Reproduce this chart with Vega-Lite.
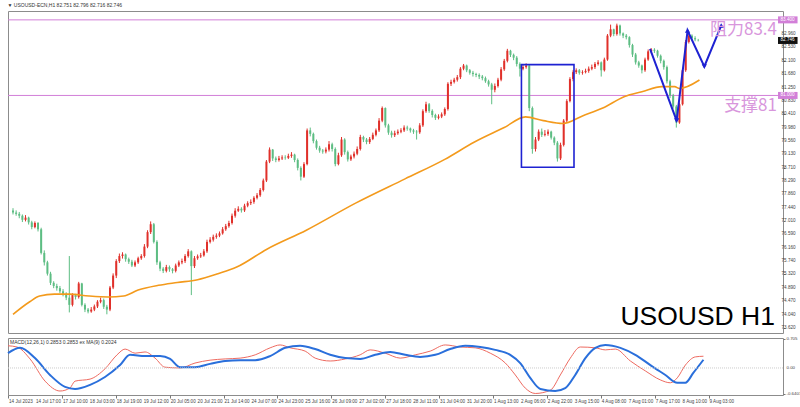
{
"$schema":"https://vega.github.io/schema/vega-lite/v6.json",
"background":"white",
"padding":{"top":2,"left":3,"right":0,"bottom":0},
"title":{"text":"▼ USOUSD-ECN,H1  82.751 82.796 82.716 82.746","anchor":"start","fontSize":5,"fontWeight":"normal","font":"Liberation Sans","color":"#333","offset":3,"dx":4},
"config":{"view":{"stroke":"#8c8c8c","strokeWidth":1},"axis":{"grid":false,"labelOverlap":false,"labelFlush":false}},
"spacing":1,
"datasets":{
"candles":[
{"i":0,"o":77.35,"h":77.42,"l":77.22,"c":77.28},{"i":2,"o":77.28,"h":77.35,"l":77.18,"c":77.24},{"i":4,"o":77.24,"h":77.3,"l":77.1,"c":77.18},{"i":6,"o":77.18,"h":77.22,"l":76.98,"c":77.05},{"i":8,"o":77.05,"h":77.2,"l":77.0,"c":77.12},{"i":10,"o":77.12,"h":77.15,"l":76.9,"c":76.97},{"i":12,"o":76.97,"h":77.02,"l":76.75,"c":76.82},{"i":14,"o":76.82,"h":77.0,"l":76.78,"c":76.95},{"i":16,"o":76.95,"h":76.98,"l":76.68,"c":76.75},{"i":18,"o":76.75,"h":76.8,"l":75.95,"c":76.0},
{"i":20,"o":76.0,"h":76.08,"l":75.6,"c":75.7},{"i":22,"o":75.7,"h":75.75,"l":75.28,"c":75.34},{"i":24,"o":75.34,"h":75.4,"l":74.98,"c":75.05},{"i":26,"o":75.05,"h":75.1,"l":74.88,"c":74.95},{"i":28,"o":74.95,"h":75.02,"l":74.8,"c":74.88},{"i":30,"o":74.88,"h":74.95,"l":74.72,"c":74.78},{"i":32,"o":74.78,"h":74.85,"l":74.62,"c":74.7},{"i":34,"o":74.7,"h":74.75,"l":74.5,"c":74.58},{"i":36,"o":74.58,"h":75.9,"l":74.11,"c":74.35},{"i":38,"o":74.35,"h":74.72,"l":74.3,"c":74.66},
{"i":40,"o":74.66,"h":74.7,"l":74.52,"c":74.6},{"i":42,"o":74.6,"h":75.08,"l":74.55,"c":75.03},{"i":44,"o":75.03,"h":75.05,"l":74.3,"c":74.35},{"i":46,"o":74.35,"h":74.4,"l":74.12,"c":74.2},{"i":48,"o":74.2,"h":74.25,"l":74.08,"c":74.14},{"i":50,"o":74.14,"h":74.28,"l":74.1,"c":74.2},{"i":52,"o":74.2,"h":74.36,"l":74.15,"c":74.3},{"i":54,"o":74.3,"h":74.5,"l":74.25,"c":74.45},{"i":56,"o":74.45,"h":74.58,"l":74.4,"c":74.5},{"i":58,"o":74.5,"h":74.55,"l":74.22,"c":74.29},
{"i":60,"o":74.29,"h":74.35,"l":74.05,"c":74.2},{"i":62,"o":74.2,"h":74.95,"l":74.15,"c":74.9},{"i":64,"o":74.9,"h":75.35,"l":74.85,"c":75.28},{"i":66,"o":75.28,"h":75.8,"l":75.2,"c":75.74},{"i":68,"o":75.74,"h":75.98,"l":75.68,"c":75.9},{"i":70,"o":75.9,"h":76.02,"l":75.82,"c":75.95},{"i":72,"o":75.95,"h":75.98,"l":75.72,"c":75.8},{"i":74,"o":75.8,"h":75.85,"l":75.65,"c":75.72},{"i":76,"o":75.72,"h":75.78,"l":75.55,"c":75.6},{"i":78,"o":75.6,"h":75.76,"l":75.55,"c":75.7},
{"i":80,"o":75.7,"h":75.88,"l":75.65,"c":75.83},{"i":82,"o":75.83,"h":75.96,"l":75.78,"c":75.9},{"i":84,"o":75.9,"h":76.28,"l":75.85,"c":76.2},{"i":86,"o":76.2,"h":76.72,"l":76.15,"c":76.66},{"i":88,"o":76.66,"h":77.0,"l":76.6,"c":76.91},{"i":90,"o":76.91,"h":76.95,"l":76.3,"c":76.35},{"i":92,"o":76.35,"h":76.4,"l":75.62,"c":75.7},{"i":94,"o":75.7,"h":75.75,"l":75.42,"c":75.5},{"i":96,"o":75.5,"h":75.55,"l":75.36,"c":75.43},{"i":98,"o":75.43,"h":75.62,"l":75.38,"c":75.55},
{"i":100,"o":75.55,"h":75.6,"l":75.4,"c":75.48},{"i":102,"o":75.48,"h":75.52,"l":75.35,"c":75.43},{"i":104,"o":75.43,"h":75.66,"l":75.38,"c":75.6},{"i":106,"o":75.6,"h":75.76,"l":75.55,"c":75.7},{"i":108,"o":75.7,"h":75.82,"l":75.64,"c":75.74},{"i":110,"o":75.74,"h":75.96,"l":75.68,"c":75.9},{"i":112,"o":75.9,"h":76.12,"l":75.85,"c":76.05},{"i":114,"o":76.05,"h":76.08,"l":74.66,"c":75.58},{"i":116,"o":75.58,"h":75.9,"l":75.52,"c":75.83},{"i":118,"o":75.83,"h":75.95,"l":75.78,"c":75.89},
{"i":120,"o":75.89,"h":76.0,"l":75.84,"c":75.92},{"i":122,"o":75.92,"h":76.12,"l":75.88,"c":76.05},{"i":124,"o":76.05,"h":76.42,"l":76.0,"c":76.35},{"i":126,"o":76.35,"h":76.5,"l":76.3,"c":76.42},{"i":128,"o":76.42,"h":76.58,"l":76.36,"c":76.51},{"i":130,"o":76.51,"h":76.62,"l":76.45,"c":76.55},{"i":132,"o":76.55,"h":76.68,"l":76.5,"c":76.62},{"i":134,"o":76.62,"h":76.82,"l":76.58,"c":76.75},{"i":136,"o":76.75,"h":76.92,"l":76.7,"c":76.85},{"i":138,"o":76.85,"h":77.02,"l":76.8,"c":76.95},
{"i":140,"o":76.95,"h":77.25,"l":76.9,"c":77.18},{"i":142,"o":77.18,"h":77.42,"l":77.12,"c":77.34},{"i":144,"o":77.34,"h":77.48,"l":77.3,"c":77.4},{"i":146,"o":77.4,"h":77.45,"l":77.28,"c":77.35},{"i":148,"o":77.35,"h":77.56,"l":77.3,"c":77.5},{"i":150,"o":77.5,"h":77.64,"l":77.45,"c":77.58},{"i":152,"o":77.58,"h":77.7,"l":77.52,"c":77.62},{"i":154,"o":77.62,"h":77.8,"l":77.56,"c":77.75},{"i":156,"o":77.75,"h":77.9,"l":77.7,"c":77.83},{"i":158,"o":77.83,"h":78.06,"l":77.78,"c":78.0},
{"i":160,"o":78.0,"h":78.36,"l":77.95,"c":78.3},{"i":162,"o":78.3,"h":78.95,"l":78.25,"c":78.9},{"i":164,"o":78.9,"h":79.35,"l":78.85,"c":79.28},{"i":166,"o":79.28,"h":79.3,"l":78.92,"c":79.0},{"i":168,"o":79.0,"h":79.06,"l":78.88,"c":78.95},{"i":170,"o":78.95,"h":79.08,"l":78.9,"c":79.0},{"i":172,"o":79.0,"h":79.1,"l":78.95,"c":79.03},{"i":174,"o":79.03,"h":79.1,"l":78.96,"c":79.02},{"i":176,"o":79.02,"h":79.15,"l":78.98,"c":79.08},{"i":178,"o":79.08,"h":79.2,"l":79.02,"c":79.12},
{"i":180,"o":79.12,"h":79.15,"l":78.88,"c":78.95},{"i":182,"o":78.95,"h":79.0,"l":78.62,"c":78.7},{"i":184,"o":78.7,"h":78.75,"l":78.3,"c":78.42},{"i":186,"o":78.42,"h":78.88,"l":78.38,"c":78.82},{"i":188,"o":78.82,"h":79.95,"l":78.78,"c":79.89},{"i":190,"o":79.89,"h":79.98,"l":79.7,"c":79.78},{"i":192,"o":79.78,"h":79.82,"l":79.48,"c":79.55},{"i":194,"o":79.55,"h":79.6,"l":79.28,"c":79.34},{"i":196,"o":79.34,"h":79.4,"l":79.18,"c":79.25},{"i":198,"o":79.25,"h":79.3,"l":79.15,"c":79.22},
{"i":200,"o":79.22,"h":79.35,"l":79.16,"c":79.28},{"i":202,"o":79.28,"h":79.55,"l":79.22,"c":79.45},{"i":204,"o":79.45,"h":79.5,"l":79.22,"c":79.3},{"i":206,"o":79.3,"h":79.35,"l":78.75,"c":78.82},{"i":208,"o":78.82,"h":79.18,"l":78.78,"c":79.1},{"i":210,"o":79.1,"h":79.68,"l":79.05,"c":79.6},{"i":212,"o":79.6,"h":79.64,"l":79.12,"c":79.2},{"i":214,"o":79.2,"h":79.25,"l":78.9,"c":78.97},{"i":216,"o":78.97,"h":79.12,"l":78.92,"c":79.06},{"i":218,"o":79.06,"h":79.22,"l":79.0,"c":79.15},
{"i":220,"o":79.15,"h":79.38,"l":79.1,"c":79.3},{"i":222,"o":79.3,"h":79.75,"l":79.25,"c":79.68},{"i":224,"o":79.68,"h":79.72,"l":79.52,"c":79.6},{"i":226,"o":79.6,"h":79.65,"l":79.45,"c":79.52},{"i":228,"o":79.52,"h":79.68,"l":79.46,"c":79.62},{"i":230,"o":79.62,"h":79.82,"l":79.58,"c":79.75},{"i":232,"o":79.75,"h":79.95,"l":79.7,"c":79.89},{"i":234,"o":79.89,"h":80.28,"l":79.84,"c":80.2},{"i":236,"o":80.2,"h":80.65,"l":80.15,"c":80.6},{"i":238,"o":80.6,"h":80.62,"l":79.98,"c":80.05},
{"i":240,"o":80.05,"h":80.1,"l":79.75,"c":79.82},{"i":242,"o":79.82,"h":79.88,"l":79.66,"c":79.74},{"i":244,"o":79.74,"h":79.88,"l":79.68,"c":79.8},{"i":246,"o":79.8,"h":79.92,"l":79.75,"c":79.85},{"i":248,"o":79.85,"h":79.96,"l":79.8,"c":79.89},{"i":250,"o":79.89,"h":80.05,"l":79.84,"c":79.98},{"i":252,"o":79.98,"h":80.04,"l":79.88,"c":79.95},{"i":254,"o":79.95,"h":79.98,"l":79.82,"c":79.89},{"i":256,"o":79.89,"h":79.94,"l":79.78,"c":79.85},{"i":258,"o":79.85,"h":79.9,"l":79.6,"c":79.83},
{"i":260,"o":79.83,"h":80.12,"l":79.78,"c":80.05},{"i":262,"o":80.05,"h":80.56,"l":80.0,"c":80.5},{"i":264,"o":80.5,"h":80.8,"l":80.45,"c":80.72},{"i":266,"o":80.72,"h":80.76,"l":80.45,"c":80.51},{"i":268,"o":80.51,"h":80.56,"l":80.3,"c":80.38},{"i":270,"o":80.38,"h":80.42,"l":80.22,"c":80.29},{"i":272,"o":80.29,"h":80.4,"l":80.24,"c":80.33},{"i":274,"o":80.33,"h":80.46,"l":80.28,"c":80.4},{"i":276,"o":80.4,"h":80.62,"l":80.35,"c":80.57},{"i":278,"o":80.57,"h":81.42,"l":80.52,"c":81.37},
{"i":280,"o":81.37,"h":81.5,"l":81.3,"c":81.43},{"i":282,"o":81.43,"h":81.56,"l":81.38,"c":81.5},{"i":284,"o":81.5,"h":81.65,"l":81.44,"c":81.58},{"i":286,"o":81.58,"h":81.9,"l":81.52,"c":81.85},{"i":288,"o":81.85,"h":82.0,"l":81.8,"c":81.95},{"i":290,"o":81.95,"h":81.98,"l":81.74,"c":81.8},{"i":292,"o":81.8,"h":81.84,"l":81.66,"c":81.72},{"i":294,"o":81.72,"h":81.78,"l":81.6,"c":81.68},{"i":296,"o":81.68,"h":81.72,"l":81.58,"c":81.65},{"i":298,"o":81.65,"h":81.7,"l":81.52,"c":81.6},
{"i":300,"o":81.6,"h":81.65,"l":81.48,"c":81.55},{"i":302,"o":81.55,"h":81.6,"l":81.4,"c":81.45},{"i":304,"o":81.45,"h":81.5,"l":81.28,"c":81.35},{"i":306,"o":81.35,"h":81.4,"l":80.72,"c":81.18},{"i":308,"o":81.18,"h":81.38,"l":81.1,"c":81.3},{"i":310,"o":81.3,"h":81.56,"l":81.25,"c":81.5},{"i":312,"o":81.5,"h":81.9,"l":81.45,"c":81.83},{"i":314,"o":81.83,"h":82.16,"l":81.78,"c":82.1},{"i":316,"o":82.1,"h":82.48,"l":82.05,"c":82.42},{"i":318,"o":82.42,"h":82.45,"l":82.22,"c":82.29},
{"i":320,"o":82.29,"h":82.33,"l":82.12,"c":82.2},{"i":322,"o":82.2,"h":82.25,"l":81.92,"c":82.0},{"i":324,"o":82.0,"h":82.05,"l":81.6,"c":81.85},{"i":326,"o":81.85,"h":81.98,"l":81.8,"c":81.9},{"i":328,"o":81.9,"h":82.02,"l":81.85,"c":81.95},{"i":330,"o":81.95,"h":81.98,"l":80.5,"c":80.6},{"i":332,"o":80.6,"h":80.65,"l":79.15,"c":79.3},{"i":334,"o":79.3,"h":79.68,"l":79.22,"c":79.6},{"i":336,"o":79.6,"h":79.92,"l":79.55,"c":79.85},{"i":338,"o":79.85,"h":79.95,"l":79.68,"c":79.75},
{"i":340,"o":79.75,"h":79.9,"l":79.7,"c":79.78},{"i":342,"o":79.78,"h":79.92,"l":79.72,"c":79.85},{"i":344,"o":79.85,"h":79.88,"l":79.6,"c":79.66},{"i":346,"o":79.66,"h":79.7,"l":79.42,"c":79.5},{"i":348,"o":79.5,"h":79.55,"l":78.9,"c":79.0},{"i":350,"o":79.0,"h":79.5,"l":78.95,"c":79.43},{"i":352,"o":79.43,"h":80.25,"l":79.38,"c":80.2},{"i":354,"o":80.2,"h":80.88,"l":80.15,"c":80.82},{"i":356,"o":80.82,"h":81.58,"l":80.78,"c":81.52},{"i":358,"o":81.52,"h":81.8,"l":81.45,"c":81.74},
{"i":360,"o":81.74,"h":81.86,"l":81.68,"c":81.8},{"i":362,"o":81.8,"h":81.84,"l":81.66,"c":81.72},{"i":364,"o":81.72,"h":81.8,"l":81.66,"c":81.74},{"i":366,"o":81.74,"h":81.85,"l":81.7,"c":81.78},{"i":368,"o":81.78,"h":81.92,"l":81.72,"c":81.85},{"i":370,"o":81.85,"h":81.98,"l":81.8,"c":81.9},{"i":372,"o":81.9,"h":82.06,"l":81.84,"c":82.0},{"i":374,"o":82.0,"h":82.12,"l":81.95,"c":82.05},{"i":376,"o":82.05,"h":82.08,"l":81.6,"c":81.8},{"i":378,"o":81.8,"h":82.2,"l":81.76,"c":82.14},
{"i":380,"o":82.14,"h":82.95,"l":82.1,"c":82.9},{"i":382,"o":82.9,"h":83.25,"l":82.85,"c":83.1},{"i":384,"o":83.1,"h":83.12,"l":82.88,"c":82.95},{"i":386,"o":82.95,"h":83.28,"l":82.9,"c":83.22},{"i":388,"o":83.22,"h":83.25,"l":82.9,"c":82.97},{"i":390,"o":82.97,"h":83.0,"l":82.82,"c":82.9},{"i":392,"o":82.9,"h":82.95,"l":82.78,"c":82.85},{"i":394,"o":82.85,"h":82.88,"l":82.52,"c":82.6},{"i":396,"o":82.6,"h":82.64,"l":82.22,"c":82.3},{"i":398,"o":82.3,"h":82.35,"l":81.98,"c":82.05},
{"i":400,"o":82.05,"h":82.1,"l":81.88,"c":81.95},{"i":402,"o":81.95,"h":81.98,"l":81.7,"c":81.8},{"i":404,"o":81.8,"h":82.2,"l":81.75,"c":82.14},{"i":406,"o":82.14,"h":82.46,"l":82.1,"c":82.4},{"i":408,"o":82.4,"h":82.5,"l":82.34,"c":82.45},{"i":410,"o":82.45,"h":82.5,"l":82.35,"c":82.42},{"i":412,"o":82.42,"h":82.45,"l":82.2,"c":82.26},{"i":414,"o":82.26,"h":82.3,"l":82.02,"c":82.1},{"i":416,"o":82.1,"h":82.14,"l":81.82,"c":81.9},{"i":418,"o":81.9,"h":81.95,"l":81.38,"c":81.45},
{"i":420,"o":81.45,"h":81.5,"l":80.92,"c":81.0},{"i":422,"o":81.0,"h":81.05,"l":80.58,"c":80.65},{"i":424,"o":80.65,"h":80.7,"l":79.98,"c":80.14},{"i":426,"o":80.14,"h":80.78,"l":80.1,"c":80.72},{"i":428,"o":80.72,"h":81.86,"l":80.68,"c":81.8},{"i":430,"o":81.8,"h":82.76,"l":81.75,"c":82.7},{"i":432,"o":82.7,"h":83.0,"l":82.65,"c":82.9},{"i":434,"o":82.9,"h":82.94,"l":82.75,"c":82.82},{"i":436,"o":82.82,"h":82.88,"l":82.72,"c":82.78},{"i":438,"o":82.751,"h":82.796,"l":82.716,"c":82.746}
],
"ma":[
{"i":0,"v":74.05},{"i":10.7,"v":74.45},{"i":17,"v":74.63},{"i":26.5,"v":74.69},{"i":36,"v":74.69},{"i":48.6,"v":74.63},{"i":61,"v":74.6},{"i":70.7,"v":74.63},{"i":80,"v":74.82},{"i":93,"v":74.97},{"i":105,"v":75.06},{"i":118,"v":75.15},{"i":131,"v":75.34},{"i":143,"v":75.55},{"i":162,"v":76.11},{"i":187.5,"v":76.72},{"i":219,"v":77.58},{"i":250.6,"v":78.35},{"i":276,"v":78.97},{"i":295,"v":79.52},{"i":314,"v":79.98},{"i":327.6,"v":80.32},{"i":339,"v":80.2},{"i":351.6,"v":80.11},{"i":364,"v":80.35},{"i":377,"v":80.6},{"i":391,"v":80.97},{"i":402,"v":81.12},{"i":414.8,"v":81.28},{"i":423,"v":81.28},{"i":426,"v":81.22},{"i":438.8,"v":81.49}
],
"blue":[
{"i":0,"v":0.36},{"i":7.6,"v":0.49},{"i":17,"v":0.24},{"i":26.5,"v":-0.17},{"i":36,"v":-0.46},{"i":42.3,"v":-0.51},{"i":51.8,"v":-0.41},{"i":61.2,"v":-0.22},{"i":70.7,"v":0.07},{"i":77,"v":0.32},{"i":86.5,"v":0.29},{"i":96,"v":0.29},{"i":102.3,"v":0.22},{"i":108.6,"v":0.02},{"i":118,"v":0.02},{"i":127.5,"v":0.1},{"i":137,"v":0.17},{"i":146.5,"v":0.19},{"i":156,"v":0.19},{"i":165.4,"v":0.29},{"i":175,"v":0.49},{"i":184.3,"v":0.54},{"i":193.8,"v":0.46},{"i":203.3,"v":0.32},{"i":212.8,"v":0.24},{"i":222.2,"v":0.22},{"i":231.7,"v":0.32},{"i":241.2,"v":0.39},{"i":250.6,"v":0.32},{"i":260,"v":0.27},{"i":269.6,"v":0.32},{"i":279,"v":0.46},{"i":288.5,"v":0.54},{"i":298,"v":0.51},{"i":307.4,"v":0.44},{"i":316.9,"v":0.32},{"i":323.2,"v":0.12},{"i":329.5,"v":-0.24},{"i":335.9,"v":-0.51},{"i":345.3,"v":-0.56},{"i":351.6,"v":-0.49},{"i":357.9,"v":-0.17},{"i":364.3,"v":0.24},{"i":370.6,"v":0.49},{"i":376.9,"v":0.56},{"i":386.4,"v":0.49},{"i":395.8,"v":0.32},{"i":405.3,"v":0.07},{"i":414.8,"v":-0.17},{"i":422.3,"v":-0.36},{"i":427.4,"v":-0.36},{"i":432.4,"v":-0.12},{"i":438.8,"v":0.2}
],
"red":[
{"i":0,"v":0.54},{"i":5.7,"v":0.51},{"i":13.9,"v":0.22},{"i":23.4,"v":-0.32},{"i":32.8,"v":-0.56},{"i":39,"v":-0.49},{"i":42.3,"v":-0.32},{"i":51.8,"v":-0.27},{"i":61.2,"v":-0.02},{"i":68.8,"v":0.32},{"i":73.9,"v":0.46},{"i":80.2,"v":0.36},{"i":86.5,"v":0.39},{"i":92.8,"v":0.24},{"i":99,"v":0.02},{"i":108.6,"v":0},{"i":118,"v":0.12},{"i":127.5,"v":0.19},{"i":137,"v":0.22},{"i":146.5,"v":0.24},{"i":156,"v":0.32},{"i":165.4,"v":0.49},{"i":171.7,"v":0.56},{"i":178,"v":0.49},{"i":187.5,"v":0.41},{"i":193.8,"v":0.24},{"i":203.3,"v":0.17},{"i":212.8,"v":0.22},{"i":222.2,"v":0.32},{"i":228.5,"v":0.44},{"i":238,"v":0.36},{"i":247.5,"v":0.24},{"i":257,"v":0.32},{"i":266.4,"v":0.41},{"i":275.9,"v":0.56},{"i":285.4,"v":0.51},{"i":294.8,"v":0.49},{"i":304.3,"v":0.36},{"i":313.8,"v":0.12},{"i":320.1,"v":-0.17},{"i":326.4,"v":-0.49},{"i":332.7,"v":-0.62},{"i":342.2,"v":-0.54},{"i":348.5,"v":-0.17},{"i":354.8,"v":0.24},{"i":361.1,"v":0.51},{"i":370.6,"v":0.49},{"i":376.9,"v":0.44},{"i":383.2,"v":0.46},{"i":392.7,"v":0.17},{"i":402.1,"v":-0.07},{"i":411.6,"v":-0.29},{"i":417.9,"v":-0.36},{"i":422.3,"v":-0.24},{"i":427.4,"v":0.07},{"i":433.7,"v":0.27},{"i":438.8,"v":0.2853}
],
"levels":[{"p":83.4,"lab":"83.400"},{"p":81.0,"lab":"81.000"}],
"cur":[{"p":82.746,"lab":"82.746"}],
"ylab":[{"p":82.96,"lab":"82.960"},{"p":82.53,"lab":"82.530"},{"p":82.1,"lab":"82.100"},{"p":81.68,"lab":"81.680"},{"p":81.25,"lab":"81.250"},{"p":80.83,"lab":"80.830"},{"p":80.41,"lab":"80.410"},{"p":79.98,"lab":"79.980"},{"p":79.56,"lab":"79.560"},{"p":79.13,"lab":"79.130"},{"p":78.71,"lab":"78.710"},{"p":78.29,"lab":"78.290"},{"p":77.86,"lab":"77.860"},{"p":77.44,"lab":"77.440"},{"p":77.01,"lab":"77.010"},{"p":76.59,"lab":"76.590"},{"p":76.16,"lab":"76.160"},{"p":75.74,"lab":"75.740"},{"p":75.32,"lab":"75.320"},{"p":74.89,"lab":"74.890"},{"p":74.47,"lab":"74.470"},{"p":74.04,"lab":"74.040"},{"p":73.62,"lab":"73.620"}],
"mylab":[{"v":0.705,"lab":"0.705"},{"v":0,"lab":"0.00"},{"v":-0.6401,"lab":"-0.6401"}],
"xlab":[{"i":0,"lab":"14 Jul 2023"},{"i":17,"lab":"14 Jul 17:00"},{"i":34,"lab":"17 Jul 10:00"},{"i":51,"lab":"18 Jul 03:00"},{"i":68,"lab":"18 Jul 19:00"},{"i":85,"lab":"19 Jul 12:00"},{"i":102,"lab":"20 Jul 05:00"},{"i":119,"lab":"20 Jul 21:00"},{"i":136,"lab":"21 Jul 14:00"},{"i":153,"lab":"24 Jul 07:00"},{"i":170,"lab":"24 Jul 23:00"},{"i":187,"lab":"25 Jul 16:00"},{"i":204,"lab":"26 Jul 09:00"},{"i":221,"lab":"27 Jul 02:00"},{"i":238,"lab":"27 Jul 18:00"},{"i":255,"lab":"28 Jul 11:00"},{"i":272,"lab":"31 Jul 04:00"},{"i":289,"lab":"31 Jul 20:00"},{"i":306,"lab":"1 Aug 13:00"},{"i":323,"lab":"2 Aug 06:00"},{"i":340,"lab":"2 Aug 22:00"},{"i":357,"lab":"3 Aug 15:00"},{"i":374,"lab":"4 Aug 08:00"},{"i":391,"lab":"7 Aug 01:00"},{"i":408,"lab":"7 Aug 17:00"},{"i":425,"lab":"8 Aug 10:00"},{"i":442,"lab":"9 Aug 03:00"}],
"notes":[{"p":83.09,"t":"阻力83.4"},{"p":80.66,"t":"支撑81"}],
"box":[{"i1":325,"i2":358.6,"p1":81.98,"p2":78.72}],
"zig":[{"o":0,"i":407.2,"p":82.48,"d":"none"},{"o":1,"i":424.2,"p":80.2,"d":"down"},{"o":2,"i":431.2,"p":83.06,"d":"up"},{"o":3,"i":441.9,"p":81.92,"d":"down"},{"o":4,"i":452.7,"p":83.22,"d":"up"}],
"sym":[{"t":"USOUSD H1"}],
"mlab":[{"t":"MACD(12,26,1) 0.2853 0.2853 ex MA(9) 0.2024"}]
},
"vconcat":[
{
"width":775,"height":322,
"layer":[
{"data":{"name":"levels"},"mark":{"type":"rule","color":"#d27fd8","strokeWidth":1},
 "encoding":{"y":{"field":"p","type":"quantitative","title":null,"scale":{"domain":[73.615,83.523],"zero":false,"nice":false},
 "axis":{"orient":"right","values":[82.96,82.53,82.1,81.68,81.25,80.83,80.41,79.98,79.56,79.13,78.71,78.29,77.86,77.44,77.01,76.59,76.16,75.74,75.32,74.89,74.47,74.04,73.62],"labels":false,"title":null,"tickSize":2,"tickColor":"#777","domain":false}}}},
{"data":{"name":"candles"},"mark":{"type":"rule","strokeWidth":1},
 "encoding":{"x":{"field":"i","type":"quantitative","title":null,"scale":{"domain":[0,489],"nice":false,"zero":false},"axis":null},
 "y":{"field":"l","type":"quantitative","title":null},"y2":{"field":"h"},
 "color":{"condition":{"test":"datum.c >= datum.o","value":"#e0302a"},"value":"#5dbd83"}}},
{"data":{"name":"candles"},"mark":{"type":"bar","size":2},
 "encoding":{"x":{"field":"i","type":"quantitative","title":null,"axis":null},
 "y":{"field":"o","type":"quantitative","title":null},"y2":{"field":"c"},
 "color":{"condition":{"test":"datum.c >= datum.o","value":"#e0302a"},"value":"#5dbd83"}}},
{"data":{"name":"ma"},"mark":{"type":"line","color":"#f39a1c","strokeWidth":1.6,"interpolate":"monotone"},
 "encoding":{"x":{"field":"i","type":"quantitative","title":null,"axis":null},"y":{"field":"v","type":"quantitative","title":null}}},
{"data":{"name":"box"},"mark":{"type":"rect","fill":null,"fillOpacity":0,"stroke":"#1e22d2","strokeWidth":1.6},
 "encoding":{"x":{"field":"i1","type":"quantitative","title":null,"axis":null},"x2":{"field":"i2"},"y":{"field":"p1","type":"quantitative","title":null},"y2":{"field":"p2"}}},
{"data":{"name":"zig"},"mark":{"type":"line","color":"#1e22d2","strokeWidth":2},
 "encoding":{"x":{"field":"i","type":"quantitative","title":null,"axis":null},"y":{"field":"p","type":"quantitative","title":null},"order":{"field":"o"}}},
{"data":{"name":"zig"},"transform":[{"filter":"datum.d != 'none'"}],"mark":{"type":"point","filled":true,"size":28,"opacity":1},
 "encoding":{"x":{"field":"i","type":"quantitative","title":null,"axis":null},"y":{"field":"p","type":"quantitative","title":null},
 "shape":{"field":"d","type":"nominal","scale":{"domain":["down","up"],"range":["triangle-down","triangle-up"]},"legend":null},
 "color":{"value":"#1e22d2"}}},
{"data":{"name":"notes"},"mark":{"type":"text","align":"right","baseline":"middle","dx":-1,"font":"Noto Sans CJK SC","fontSize":17,"color":"#d896dc"},
 "encoding":{"x":{"datum":489,"type":"quantitative","title":null,"axis":null},"y":{"field":"p","type":"quantitative","title":null},"text":{"field":"t"}}},
{"data":{"name":"sym"},"mark":{"type":"text","align":"right","baseline":"alphabetic","dx":-3,"font":"Liberation Sans","fontSize":26.5,"color":"#000"},
 "encoding":{"x":{"datum":489,"type":"quantitative","title":null,"axis":null},"y":{"datum":73.71,"type":"quantitative","title":null},"text":{"field":"t"}}},
{"data":{"name":"ylab"},"mark":{"type":"text","align":"left","baseline":"middle","dx":3.5,"fontSize":4.6,"font":"Liberation Sans","color":"#444","clip":false},
 "encoding":{"x":{"datum":489,"type":"quantitative","title":null,"axis":null},"y":{"field":"p","type":"quantitative","title":null},"text":{"field":"lab"}}},
{"data":{"name":"levels"},"mark":{"type":"bar","orient":"horizontal","height":7,"color":"#d27fd8","clip":false},
 "encoding":{"x":{"datum":489,"type":"quantitative","title":null,"axis":null},"x2":{"datum":501.5},"y":{"field":"p","type":"quantitative","title":null}}},
{"data":{"name":"levels"},"mark":{"type":"text","align":"left","baseline":"middle","dx":2.5,"fontSize":4.6,"font":"Liberation Sans","color":"white"},
 "encoding":{"x":{"datum":489,"type":"quantitative","title":null,"axis":null},"y":{"field":"p","type":"quantitative","title":null},"text":{"field":"lab"}}},
{"data":{"name":"cur"},"mark":{"type":"bar","orient":"horizontal","height":7,"color":"#111","clip":false},
 "encoding":{"x":{"datum":489,"type":"quantitative","title":null,"axis":null},"x2":{"datum":501.5},"y":{"field":"p","type":"quantitative","title":null}}},
{"data":{"name":"cur"},"mark":{"type":"text","align":"left","baseline":"middle","dx":2.5,"fontSize":4.6,"font":"Liberation Sans","color":"white"},
 "encoding":{"x":{"datum":489,"type":"quantitative","title":null,"axis":null},"y":{"field":"p","type":"quantitative","title":null},"text":{"field":"lab"}}}
]
},
{
"width":775,"height":57,
"layer":[
{"data":{"name":"red"},"mark":{"type":"line","color":"#ee6a60","strokeWidth":1,"interpolate":"monotone"},
 "encoding":{"x":{"field":"i","type":"quantitative","title":null,"scale":{"domain":[0,489],"nice":false,"zero":false},
 "axis":{"orient":"bottom","values":[0,17,34,51,68,85,102,119,136,153,170,187,204,221,238,255,272,289,306,323,340,357,374,391,408,425,442],"labels":false,"title":null,"tickSize":3,"tickColor":"#777","domain":false}},
 "y":{"field":"v","type":"quantitative","title":null,"scale":{"domain":[-0.657,0.729],"nice":false,"zero":false},
 "axis":{"orient":"right","values":[0.705,0,-0.6401],"labels":false,"title":null,"tickSize":2,"tickColor":"#777","domain":false}}}},
{"data":{"name":"blue"},"mark":{"type":"line","color":"#2a6fdb","strokeWidth":2,"interpolate":"monotone"},
 "encoding":{"x":{"field":"i","type":"quantitative","title":null},"y":{"field":"v","type":"quantitative","title":null}}},
{"data":{"name":"mlab"},"mark":{"type":"rule","color":"#cccccc","strokeWidth":1,"strokeDash":[1,1]},
 "encoding":{"y":{"datum":0,"type":"quantitative","title":null}}},
{"data":{"name":"mlab"},"mark":{"type":"text","align":"left","baseline":"middle","fontSize":5,"font":"Liberation Sans","color":"#333","dx":2},
 "encoding":{"x":{"datum":0,"type":"quantitative","title":null},"y":{"datum":0.64,"type":"quantitative","title":null},"text":{"field":"t"}}},
{"data":{"name":"mylab"},"mark":{"type":"text","align":"left","baseline":"middle","dx":3.5,"fontSize":4.4,"font":"Liberation Sans","color":"#444","clip":false},
 "encoding":{"x":{"datum":489,"type":"quantitative","title":null},"y":{"field":"v","type":"quantitative","title":null},"text":{"field":"lab"}}},
{"data":{"name":"xlab"},"mark":{"type":"text","align":"left","baseline":"top","dx":1,"dy":4,"fontSize":4.6,"font":"Liberation Sans","color":"#444","clip":false},
 "encoding":{"x":{"field":"i","type":"quantitative","title":null},"y":{"datum":-0.657,"type":"quantitative","title":null},"text":{"field":"lab"}}}
]
}
]
}
